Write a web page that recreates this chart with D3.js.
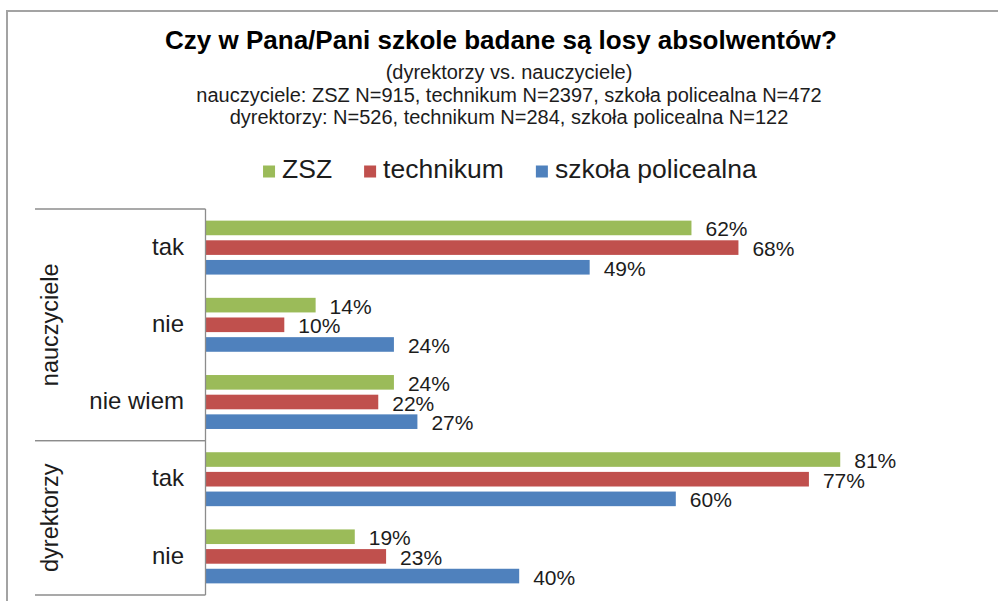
<!DOCTYPE html>
<html>
<head>
<meta charset="utf-8">
<script src="https://cdn.jsdelivr.net/npm/d3@7"></script>
<style>
  html, body { margin: 0; padding: 0; background: #ffffff; }
  svg { display: block; font-family: "Liberation Sans", Arial, sans-serif; }
</style>
</head>
<body>
<svg id="chart" width="998" height="601"></svg>
<script>
// Survey answers: "Are graduates' career paths tracked in your school?"
const titleText = "Czy w Pana/Pani szkole badane są losy absolwentów?";
const subtitleLines = [
  "(dyrektorzy vs. nauczyciele)",
  "nauczyciele: ZSZ N=915, technikum N=2397, szkoła policealna N=472",
  "dyrektorzy: N=526, technikum N=284, szkoła policealna N=122"
];

const categoryLabels = ["tak", "nie", "nie wiem", "tak", "nie"];
const categoryGroups = ["nauczyciele", "nauczyciele", "nauczyciele", "dyrektorzy", "dyrektorzy"];
const groupNames = ["nauczyciele", "dyrektorzy"];

const seriesNames = ["ZSZ", "technikum", "szkoła policealna"];
const seriesColors = ["#9BBB59", "#C0504D", "#4F81BD"];

// percentages per category, in category order
const zszValues = [62, 14, 24, 81, 19];
const technikumValues = [68, 10, 22, 77, 23];
const policealnaValues = [49, 24, 27, 60, 40];
const seriesValues = [zszValues, technikumValues, policealnaValues];

const svg = d3.select("#chart");
const W = 998, H = 601;
const FONT_COLOR = "#1c1c1c";
const AXIS_COLOR = "#8c8c8c";

// chart frame
svg.append("path")
  .attr("d", `M7,${H} V11 H${W}`)
  .attr("fill", "none")
  .attr("stroke", "#a3a3a3")
  .attr("stroke-width", 2);

// title block
svg.append("text")
  .attr("x", 501).attr("y", 48.5)
  .attr("text-anchor", "middle")
  .attr("font-size", 26).attr("font-weight", "bold")
  .attr("fill", "#000")
  .text(titleText);

svg.selectAll("text.subtitle")
  .data(subtitleLines)
  .join("text")
  .attr("class", "subtitle")
  .attr("x", 509)
  .attr("y", (d, i) => 79 + i * 22.5)
  .attr("text-anchor", "middle")
  .attr("font-size", 20)
  .attr("fill", FONT_COLOR)
  .text(d => d);

// scales
const x = d3.scaleLinear().domain([0, 100]).range([206, 989]);
const y0 = d3.scaleBand().domain(d3.range(categoryLabels.length)).range([209, 595]).padding(0);
const y1 = d3.scaleBand().domain(seriesNames).range([-29.5, 29.5]).paddingInner(0.257).paddingOuter(0.1285);
const yc = i => y0(i) + y0.bandwidth() / 2;

// bars
const bars = [];
seriesNames.forEach((s, si) => {
  seriesValues[si].forEach((v, ci) => bars.push({ s, si, ci, v }));
});

svg.append("g").selectAll("rect")
  .data(bars)
  .join("rect")
  .attr("x", x(0))
  .attr("y", d => yc(d.ci) + y1(d.s))
  .attr("width", d => x(d.v) - x(0))
  .attr("height", y1.bandwidth())
  .attr("fill", d => seriesColors[d.si]);

// value labels
svg.append("g").selectAll("text")
  .data(bars)
  .join("text")
  .attr("x", d => x(d.v) + 14)
  .attr("y", d => yc(d.ci) + y1(d.s) + y1.bandwidth() / 2 + 8.5)
  .attr("font-size", 21)
  .attr("fill", FONT_COLOR)
  .text(d => d.v + "%");

// category axis: inner level labels
const axis = d3.axisLeft(y0)
  .tickSize(0)
  .tickPadding(0)
  .tickFormat(i => categoryLabels[i]);

const axisG = svg.append("g")
  .attr("transform", "translate(184,0)")
  .call(axis);
axisG.select(".domain").remove();
axisG.selectAll("text")
  .attr("font-size", 24)
  .attr("font-family", "\"Liberation Sans\", Arial, sans-serif")
  .attr("fill", FONT_COLOR)
  .attr("dy", "0.3em");

// axis line
svg.append("line")
  .attr("x1", 205.5).attr("x2", 205.5)
  .attr("y1", y0.range()[0]).attr("y2", y0.range()[1])
  .attr("stroke", AXIS_COLOR).attr("stroke-width", 1.3);

// outer level: group dividers and rotated labels
const groupSpans = groupNames.map(g => {
  const idx = d3.range(categoryLabels.length).filter(i => categoryGroups[i] === g);
  return { g, top: y0(d3.min(idx)), bottom: y0(d3.max(idx)) + y0.bandwidth() };
});
const dividers = Array.from(new Set(groupSpans.flatMap(d => [d.top, d.bottom])));

svg.append("g").selectAll("line")
  .data(dividers)
  .join("line")
  .attr("x1", 35).attr("x2", 205.5)
  .attr("y1", d => d).attr("y2", d => d)
  .attr("stroke", AXIS_COLOR).attr("stroke-width", 1.3);

svg.append("g").selectAll("text")
  .data(groupSpans)
  .join("text")
  .attr("transform", d => `translate(57.5,${(d.top + d.bottom) / 2}) rotate(-90)`)
  .attr("text-anchor", "middle")
  .attr("font-size", 23.5)
  .attr("fill", FONT_COLOR)
  .text(d => d.g);

// legend, centred
const legend = svg.append("g");
const items = legend.selectAll("g")
  .data(seriesNames)
  .join("g");
items.append("rect")
  .attr("width", 12).attr("height", 12)
  .attr("y", -12.5)
  .attr("fill", (d, i) => seriesColors[i]);
items.append("text")
  .attr("x", 19)
  .attr("font-size", 26.5)
  .attr("fill", FONT_COLOR)
  .text(d => d);
let cursor = 0;
items.each(function () {
  const w = this.getBBox().width;
  d3.select(this).attr("transform", `translate(${cursor},0)`);
  cursor += w + 32;
});
const legendWidth = cursor - 32;
legend.attr("transform", `translate(${510 - legendWidth / 2},178)`);
</script>
</body>
</html>
